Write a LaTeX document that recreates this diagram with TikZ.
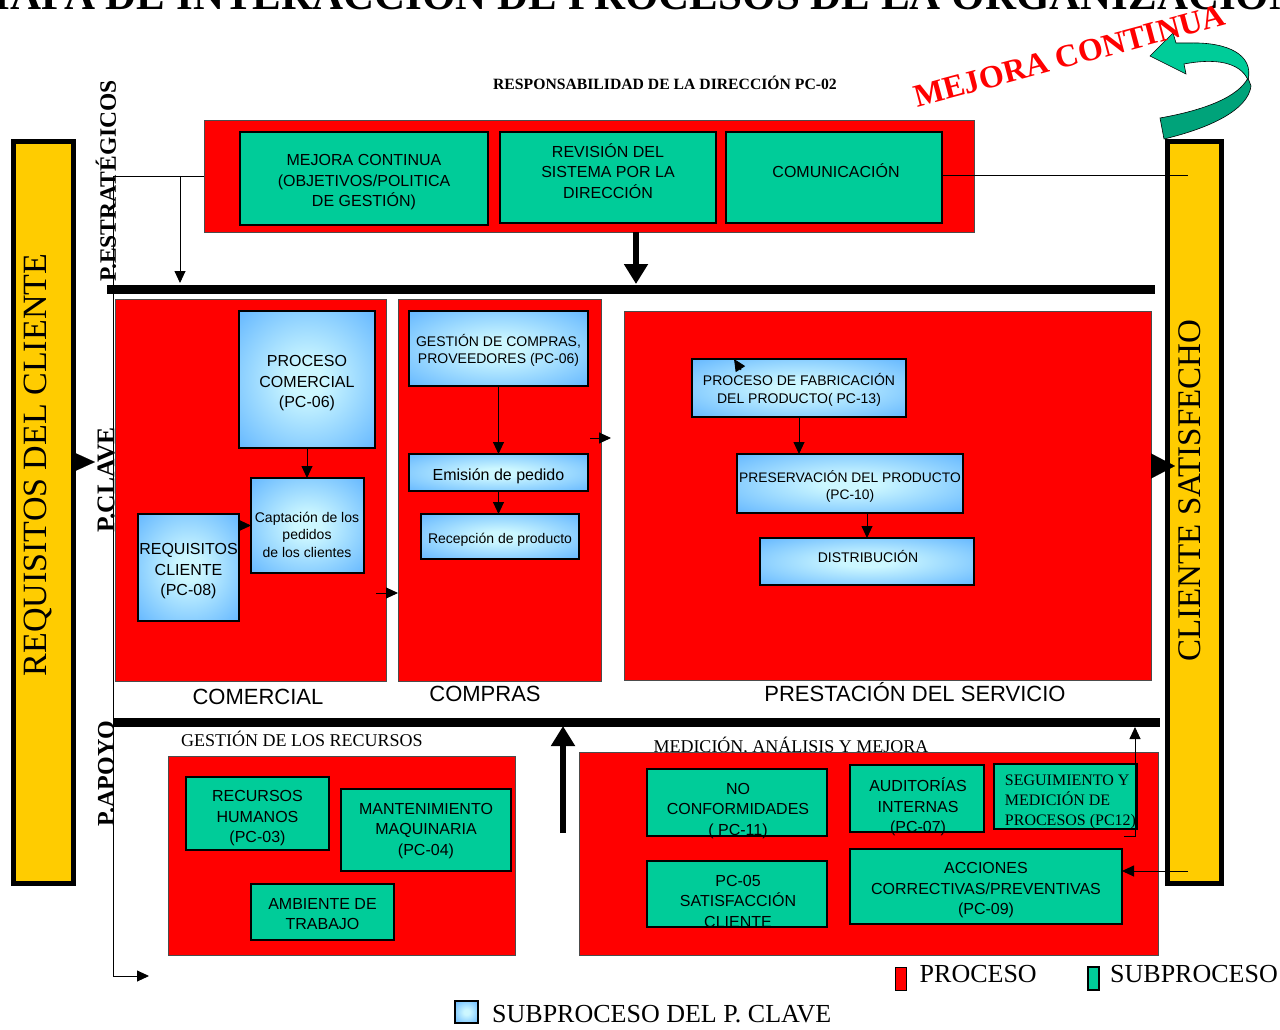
\documentclass[tikz,border=0pt]{standalone}
\usepackage{fontspec}
\setmainfont{Liberation Serif}
\newfontfamily\arialfont{Liberation Sans}
\usetikzlibrary{arrows.meta,positioning}

\definecolor{procred}{RGB}{255,0,0}
\definecolor{subgreen}{RGB}{0,204,153}
\definecolor{subgreendk}{RGB}{0,163,122}
\definecolor{cliyellow}{RGB}{255,204,0}
\definecolor{claveblue}{RGB}{51,153,255}
\definecolor{clavelight}{RGB}{204,247,255}

\pgfdeclareradialshading{claveshade}{\pgfpoint{0bp}{0bp}}{color(0bp)=(clavelight); color(6bp)=(clavelight); color(50bp)=(claveblue)}

\newcommand{\fsz}[2]{\fontsize{#1}{#2}\selectfont}
\newcommand{\topstrut}{\rule{0pt}{1.2em}}

\tikzset{
  proc/.style={draw=black!70, fill=procred, line width=0.8pt, inner sep=0pt, outer sep=0pt},
  subproc/.style={draw=black, fill=subgreen, line width=1.1pt, inner sep=0pt, outer sep=0pt,
    align=center, font=\arialfont\fsz{16}{20.5}},
  clave/.style={draw=black, line width=1.1pt, shade, shading=claveshade, inner sep=0pt, outer sep=0pt,
    align=center, font=\arialfont\fsz{14}{17.5}, execute at begin node=\topstrut},
  boxtext/.style={inner sep=0pt, align=center, font=\arialfont\fsz{16}{20.5}},
  smalltext/.style={boxtext, font=\arialfont\fsz{14}{17.5}},
  cliente/.style={draw=black, fill=cliyellow, line width=5pt, inner sep=0pt, outer sep=0pt},
  level/.style={rotate=90, inner sep=0pt, font=\bfseries\fsz{24}{26}},
  sectxt/.style={inner sep=0pt, font=\arialfont\fsz{22}{26}},
  areatxt/.style={inner sep=0pt, font=\fsz{18}{21}},
  legtxt/.style={inner sep=0pt, font=\fsz{26}{30}},
  arr/.style={-{Triangle[length=12pt,width=11pt]}, line width=0.9pt},
  bigarr/.style={-{Triangle[length=20pt,width=23pt]}, line width=6pt},
  bar/.style={line width=9pt}
}

\begin{document}
\begin{tikzpicture}[x=1pt, y=-1pt]
  \useasboundingbox (0,0) rectangle (1280,1030);

  % Title (cut by the page edge)
  \node[anchor=base, inner sep=0pt, font=\bfseries\fsz{43}{50}] (titulo) at (635,9.5)
    {MAPA DE INTERACCIÓN DE PROCESOS DE LA ORGANIZACIÓN};

  % Client bars
  \node[cliente, minimum width=60, minimum height=742] (reqbar) at (43.5,512.5) {};
  \node[rotate=90, inner sep=0pt, font=\fsz{34}{40}] (req-t) at (38,465) {REQUISITOS DEL CLIENTE};
  \node[cliente, minimum width=54, minimum height=742] (satbar) at (1194.5,512.5) {};
  \node[rotate=90, inner sep=0pt, font=\fsz{33}{40}] (sat-t) at (1190,490.5) {CLIENTE SATISFECHO};

  % Mejora continua arrow
  \fill[subgreendk, draw=black, line width=0.6pt] (1160,118) .. controls (1205,110) and (1238,97) .. (1248,78)
    -- (1251,86) .. controls (1248,110) and (1210,128) .. (1164,139) -- cycle;
  \fill[subgreen, draw=black, line width=0.6pt] (1248,80) .. controls (1254,55) and (1228,42) .. (1190,43)
    -- (1176,43) -- (1173,33) -- (1150,56) -- (1186,74) -- (1184,64)
    .. controls (1215,58) and (1240,62) .. (1248,80) -- cycle;
  \node[anchor=base, rotate=15, inner sep=0pt, text=procred, font=\bfseries\fsz{32}{36}] (mejora-l) at (1072,66)
    {MEJORA CONTINUA};

  % Level labels
  \node[level, font=\bfseries\fsz{23.5}{26}] (estrat-l) at (106,181) {P.ESTRATÉGICOS};
  \node[level, font=\bfseries\fsz{25.5}{28}] (clave-l) at (106,480) {P.CLAVE};
  \node[level] (apoyo-l) at (106,773.5) {P.APOYO};

  % Strategic processes
  \node[inner sep=0pt, font=\bfseries\fsz{15.7}{18}] (resp) at (665,83) {RESPONSABILIDAD DE LA DIRECCIÓN PC-02};
  \node[proc, minimum width=770, minimum height=112] (direccion) at (589,176) {};
  \node[subproc, minimum width=248, minimum height=93] (mejora) at (364,178.5) {};
  \node[boxtext] (mejora-t) at ([yshift=-4pt]mejora.center) {MEJORA CONTINUA\\(OBJETIVOS/POLITICA\\DE GESTIÓN)};
  \node[subproc, minimum width=216, minimum height=91] (revision) at (608,177.5) {};
  \node[boxtext] (revision-t) at (608,171) {REVISIÓN DEL\\SISTEMA POR LA\\DIRECCIÓN};
  \node[subproc, minimum width=216, minimum height=91] (comunic) at (834,177.5) {};
  \node[boxtext] (comunic-t) at (836,171) {COMUNICACIÓN};

  % Connectors from the top block
  \coordinate (lft-top) at (113,176);
  \coordinate (lft-end) at (149,976);
  \coordinate (estr-in) at (180,283);
  \coordinate (sat-top) at (1188,175);
  \draw[arr] (direccion.west) -- (lft-top) |- (lft-end);
  \draw[arr] (estr-in |- lft-top) -- (estr-in);
  \draw (comunic.east |- sat-top) -- (sat-top);

  % Separator bars
  \draw[bar] (107,289.5) -- (1155,289.5);
  \draw[bar] (113,722.5) -- (1160,722.5);
  \coordinate (clave-in) at (636,284);
  \draw[bigarr] (direccion.south -| clave-in) -- (clave-in);

  % Key processes
  \node[proc, minimum width=271, minimum height=382] (comercial) at (250.5,490) {};
  \node[proc, minimum width=203, minimum height=382] (compras) at (499.5,490) {};
  \node[proc, minimum width=527, minimum height=369] (prestacion) at (887.5,495.5) {};
  \node[sectxt, anchor=base] (comercial-l) at (258,704) {COMERCIAL};
  \node[sectxt, anchor=base] (compras-l) at (485,701) {COMPRAS};
  \node[sectxt, anchor=base] (prestacion-l) at (915,701) {PRESTACIÓN DEL SERVICIO};

  \node[clave, minimum width=136, minimum height=137] (proccom) at (307,379.5) {};
  \node[boxtext] (proccom-t) at ([yshift=-4pt]proccom.center) {PROCESO\\COMERCIAL\\(PC-06)};
  \node[clave, minimum width=113, minimum height=95] (captacion) at (307.5,525.5) {};
  \node[smalltext] (captacion-t) at (307,534.5) {Captación de los\\pedidos\\de los clientes};
  \node[clave, minimum width=101, minimum height=107] (reqcli) at (188.5,567.5) {};
  \node[boxtext] (reqcli-t) at ([yshift=-4pt]reqcli.center) {REQUISITOS\\CLIENTE\\(PC-08)};

  \node[clave, minimum width=179, minimum height=75] (gestcompras) at (498.5,348.5) {};
  \node[smalltext] (gestcompras-t) at ([yshift=-2pt]gestcompras.center) {GESTIÓN DE COMPRAS,\\PROVEEDORES (PC-06)};
  \node[clave, font=\arialfont\fsz{16}{20.5}, minimum width=179, minimum height=37] (emision) at (498.5,472.5)
    {Emisión de pedido};
  \node[clave, minimum width=158, minimum height=45] (recepcion) at (500,536.5) {Recepción de producto};

  \node[clave, minimum width=214, minimum height=58] (fabricacion) at (799,388) {};
  \node[smalltext] (fabricacion-t) at ([yshift=-2pt]fabricacion.center) {PROCESO DE FABRICACIÓN\\DEL PRODUCTO( PC-13)};
  \node[clave, minimum width=226, minimum height=59] (preservacion) at (850,483.5) {};
  \node[smalltext, font=\arialfont\fsz{13.8}{17.5}] (preservacion-t) at ([yshift=-3pt]preservacion.center)
    {PRESERVACIÓN DEL PRODUCTO\\(PC-10)};
  \node[clave, minimum width=214, minimum height=47] (distrib) at (867,561.5) {};
  \node[smalltext] (distrib-t) at (868,556) {DISTRIBUCIÓN};

  % Key process connectors
  \draw[arr] (proccom.south) -- (proccom.south |- captacion.north);
  \draw[arr] (reqcli.east |- captacion.center) -- (captacion.west);
  \coordinate (com-out) at (376,593);
  \draw[arr] (com-out) -- (compras.west |- com-out);
  \draw[arr] (gestcompras.south) -- (emision.north);
  \draw[arr] (emision.south) -- (emision.south |- recepcion.north);
  \coordinate (cmp-from) at (590,438);
  \coordinate (cmp-to) at (611,438);
  \draw[arr] (cmp-from) -- (cmp-to);
  \draw[arr] ([xshift=49pt,yshift=-11pt]fabricacion.north west) -- ([xshift=42pt]fabricacion.north west);
  \draw[arr] (fabricacion.south) -- (fabricacion.south |- preservacion.north);
  \draw[arr] (preservacion.south -| distrib.north) -- (distrib.north);

  % Client in / client out
  \coordinate (req-tip) at (95,462);
  \coordinate (sat-tip) at (1175,466);
  \draw[-{Triangle[length=22pt,width=20pt]}, line width=0.1pt] (reqbar.east |- req-tip) -- (req-tip);
  \draw[-{Triangle[length=24pt,width=25pt]}, line width=0.1pt] (prestacion.east |- sat-tip) -- (sat-tip);

  % Support processes
  \node[areatxt, anchor=base] (recursos-l) at (302,746) {GESTIÓN DE LOS RECURSOS};
  \node[proc, minimum width=347, minimum height=199] (recursos) at (341.5,855.5) {};
  \node[subproc, minimum width=143, minimum height=73] (rrhh) at (257.5,813.5) {};
  \node[boxtext] (rrhh-t) at ([yshift=-5pt]rrhh.center) {RECURSOS\\HUMANOS\\(PC-03)};
  \node[subproc, minimum width=170, minimum height=82] (mant) at (426,830) {};
  \node[boxtext] (mant-t) at ([yshift=-1pt]mant.center) {MANTENIMIENTO\\MAQUINARIA\\(PC-04)};
  \node[subproc, minimum width=143, minimum height=56] (ambiente) at (322.5,912) {};
  \node[boxtext] (ambiente-t) at ([yshift=-2pt]ambiente.center) {AMBIENTE DE\\TRABAJO};

  \coordinate (apoyo-up) at (563,726);
  \draw[bigarr] ([yshift=-107pt]apoyo-up) -- (apoyo-up);

  \node[areatxt, anchor=base] (medicion-l) at (791,752) {MEDICIÓN, ANÁLISIS Y MEJORA};
  \node[proc, minimum width=579, minimum height=203] (medicion) at (868.5,853.5) {};
  \node[subproc, minimum width=180, minimum height=67] (noconf) at (737,802.5) {};
  \node[boxtext] (noconf-t) at (738,811) {NO\\CONFORMIDADES\\( PC-11)};
  \node[subproc, minimum width=134, minimum height=67] (auditorias) at (917,798.5) {};
  \node[boxtext] (auditorias-t) at (918,807) {AUDITORÍAS\\INTERNAS\\(PC-07)};
  \node[subproc, minimum width=143, minimum height=65] (seguim) at (1065.5,796.5) {};
  \node[boxtext, align=left, font=\fsz{16}{20}] (seguim-t) at ([xshift=5pt,yshift=-5pt]seguim.center)
    {SEGUIMIENTO Y\\MEDICIÓN DE\\PROCESOS (PC12)};
  \node[subproc, minimum width=180, minimum height=66] (satisf) at (737,894) {};
  \node[boxtext] (satisf-t) at (738,901) {PC-05\\SATISFACCIÓN\\CLIENTE};
  \node[subproc, minimum width=272, minimum height=75] (acciones) at (986,886.5) {};
  \node[boxtext] (acciones-t) at ([yshift=-4pt]acciones.center) {ACCIONES\\CORRECTIVAS/PREVENTIVAS\\(PC-09)};

  \coordinate (seg-from) at (1124,836);
  \coordinate (seg-to) at (1135,727);
  \coordinate (sat-low) at (1188,871);
  \draw[arr] (seg-from) -| (seg-to);
  \draw[arr] (sat-low) -- (acciones.east |- sat-low);

  % Legend
  \node[proc, draw=black, minimum width=11, minimum height=23] (leg-proc) at (901,978.5) {};
  \node[legtxt, right=13pt of leg-proc, yshift=4pt] (leg-proc-t) {PROCESO};
  \node[subproc, minimum width=11, minimum height=23] (leg-sub) at (1093.5,978.5) {};
  \node[legtxt, right=11pt of leg-sub, yshift=4pt] (leg-sub-t) {SUBPROCESO};
  \node[clave, minimum width=23, minimum height=22] (leg-clave) at (466.5,1012) {};
  \node[legtxt, right=14pt of leg-clave, yshift=-2pt] (leg-clave-t) {SUBPROCESO DEL P. CLAVE};
\end{tikzpicture}
\end{document}
